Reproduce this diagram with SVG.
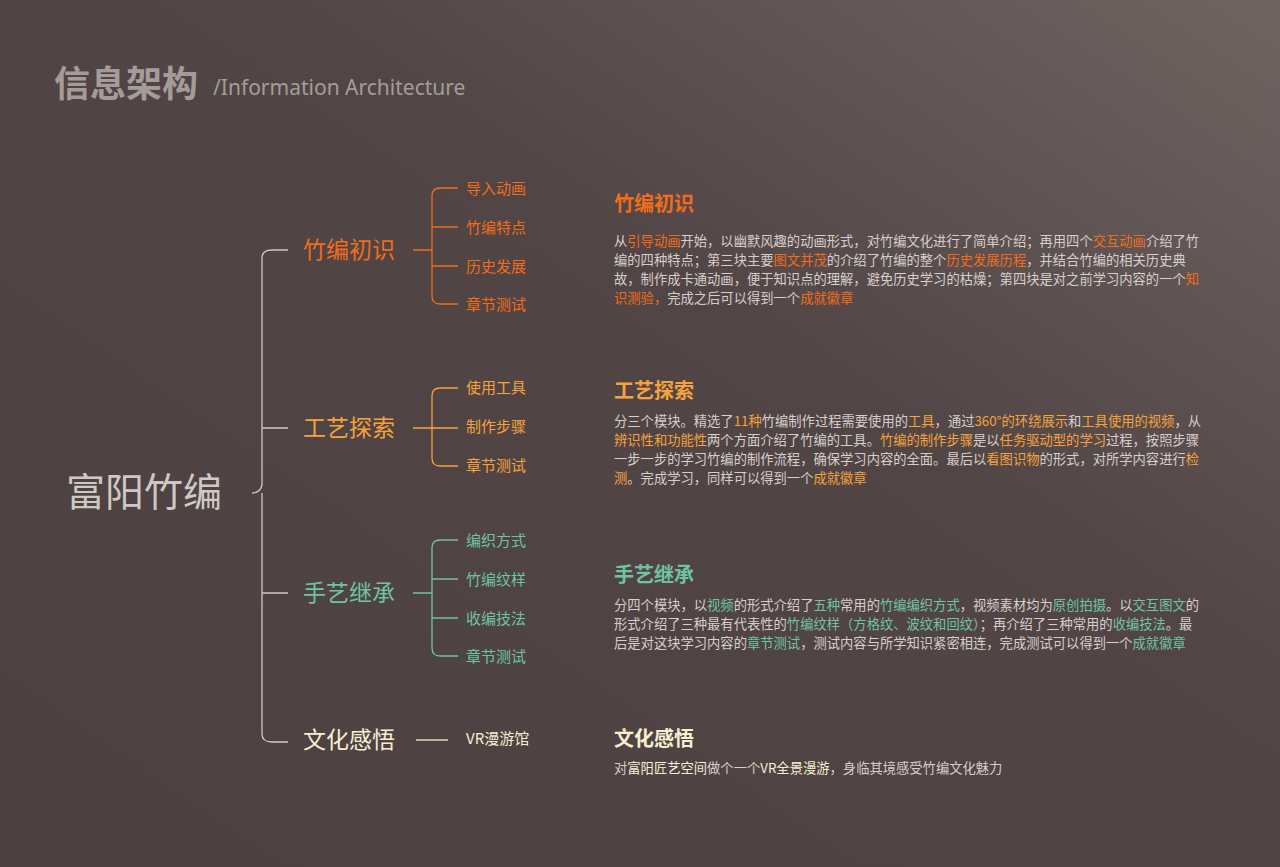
<svg xmlns="http://www.w3.org/2000/svg" width="1280" height="867" viewBox="0 0 1280 867">
<defs>
<linearGradient id="bg" x1="0" y1="1" x2="1" y2="0">
<stop offset="0" stop-color="#4c4140"/><stop offset="0.6" stop-color="#514645"/><stop offset="1" stop-color="#6e6462"/>
</linearGradient>
<style>
text{font-family:"Noto Sans CJK SC","Liberation Sans",sans-serif}
.p{font-size:13.3px;fill:#d6cfcb}
.o{fill:#f26c1c}.a{fill:#f6a23e}.g{fill:#70c3a2}.c{fill:#f8eed2}
.ln{fill:none;stroke-width:1.3}
.l1{font-size:23px}.l2{font-size:15px}.t{font-size:20px;font-weight:bold}
</style>
</defs>
<rect width="1280" height="867" fill="url(#bg)"/>
<text x="54" y="97" font-size="36" font-weight="bold" fill="#a59c99">信息架构</text>
<text x="213" y="95" font-size="21" fill="#a59c99" style="font-family:'Noto Sans','Liberation Sans',sans-serif">/Information Architecture</text>
<g id="connectors">
<path class="ln" stroke="#cfc8c4" d="M252 493 Q260 493 262 485 L262 258 Q262 250 272 250 L288 250 M262 493 L262 734 Q262 742 272 742 L288 742 M262 428 H288 M262 593 H288"/>
<path class="ln" stroke="#f26c1c" d="M413 250 H432 M458 188 H440 Q432 188 432 196 V296 Q432 304 440 304 H458 M432 227 H458 M432 266 H458"/>
<path class="ln" stroke="#f6a23e" d="M413 428 H432 M458 388 H440 Q432 388 432 396 V458 Q432 466 440 466 H458 M432 428 H458"/>
<path class="ln" stroke="#70c3a2" d="M413 593 H432 M458 540 H440 Q432 540 432 548 V648 Q432 656 440 656 H458 M432 579 H458 M432 618 H458"/>
<path class="ln" stroke="#f8eed2" d="M416 740 H448"/>
</g>
<g id="root"><text x="66" y="506" font-size="39" fill="#cfc8c4">富阳竹编</text></g>
<g id="n1"><text class="l1 o" x="303" y="258">竹编初识</text>
<text class="l2 o" x="466" y="194">导入动画</text><text class="l2 o" x="466" y="233">竹编特点</text><text class="l2 o" x="466" y="272">历史发展</text><text class="l2 o" x="466" y="310">章节测试</text></g>
<g id="n2"><text class="l1 a" x="303" y="436">工艺探索</text>
<text class="l2 a" x="466" y="393">使用工具</text><text class="l2 a" x="466" y="432">制作步骤</text><text class="l2 a" x="466" y="471">章节测试</text></g>
<g id="n3"><text class="l1 g" x="303" y="601">手艺继承</text>
<text class="l2 g" x="466" y="546">编织方式</text><text class="l2 g" x="466" y="585">竹编纹样</text><text class="l2 g" x="466" y="624">收编技法</text><text class="l2 g" x="466" y="662">章节测试</text></g>
<g id="n4"><text class="l1 c" x="303" y="748">文化感悟</text><text class="l2 c" x="466" y="744">VR漫游馆</text></g>
<g id="d1"><text class="t o" x="614" y="211">竹编初识</text>
<text class="p" x="614" y="246">从<tspan class="o">引导动画</tspan>开始，以幽默风趣的动画形式，对竹编文化进行了简单介绍；再用四个<tspan class="o">交互动画</tspan>介绍了竹</text>
<text class="p" x="614" y="265">编的四种特点；第三块主要<tspan class="o">图文并茂</tspan>的介绍了竹编的整个<tspan class="o">历史发展历程</tspan>，并结合竹编的相关历史典</text>
<text class="p" x="614" y="284">故，制作成卡通动画，便于知识点的理解，避免历史学习的枯燥；第四块是对之前学习内容的一个<tspan class="o">知</tspan></text>
<text class="p" x="614" y="303"><tspan class="o">识测验，</tspan>完成之后可以得到一个<tspan class="o">成就徽章</tspan></text></g>
<g id="d2"><text class="t a" x="614" y="398">工艺探索</text>
<text class="p" x="614" y="426">分三个模块。精选了<tspan class="a">11种</tspan>竹编制作过程需要使用的<tspan class="a">工具</tspan>，通过<tspan class="a">360°的环绕展示</tspan>和<tspan class="a">工具使用的视频</tspan>，从</text>
<text class="p" x="614" y="445"><tspan class="a">辨识性和功能性</tspan>两个方面介绍了竹编的工具。<tspan class="a">竹编的制作步骤</tspan>是以<tspan class="a">任务驱动型的学习</tspan>过程，按照步骤</text>
<text class="p" x="614" y="464">一步一步的学习竹编的制作流程，确保学习内容的全面。最后以<tspan class="a">看图识物</tspan>的形式，对所学内容进行<tspan class="a">检</tspan></text>
<text class="p" x="614" y="483"><tspan class="a">测</tspan>。完成学习，同样可以得到一个<tspan class="a">成就徽章</tspan></text></g>
<g id="d3"><text class="t g" x="614" y="582">手艺继承</text>
<text class="p" x="614" y="610">分四个模块，以<tspan class="g">视频</tspan>的形式介绍了<tspan class="g">五种</tspan>常用的<tspan class="g">竹编编织方式</tspan>，视频素材均为<tspan class="g">原创拍摄</tspan>。以<tspan class="g">交互图文</tspan>的</text>
<text class="p" x="614" y="629">形式介绍了三种最有代表性的<tspan class="g">竹编纹样（方格纹、波纹和回纹）</tspan>；再介绍了三种常用的<tspan class="g">收编技法</tspan>。最</text>
<text class="p" x="614" y="648">后是对这块学习内容的<tspan class="g">章节测试</tspan>，测试内容与所学知识紧密相连，完成测试可以得到一个<tspan class="g">成就徽章</tspan></text></g>
<g id="d4"><text class="t c" x="614" y="746">文化感悟</text>
<text class="p" x="614" y="773">对<tspan class="c">富阳匠艺空间</tspan>做个一个<tspan class="c">VR全景漫游</tspan>，身临其境感受竹编文化魅力</text></g>
</svg>
